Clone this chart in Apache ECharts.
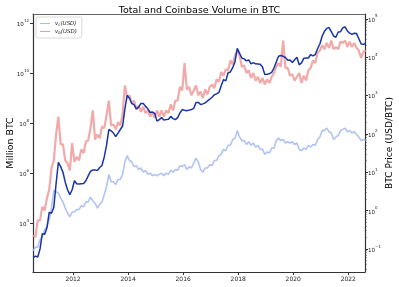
<!DOCTYPE html>
<html>
<head>
<meta charset="utf-8">
<script src="https://cdn.jsdelivr.net/npm/echarts@6/dist/echarts.min.js"></script>
<style>html,body{margin:0;padding:0;background:#fff}#c{width:399px;height:287px}</style>
</head>
<body>
<div id="c"></div>
<script>
// Monthly samples starting mid-July 2010
const startYear = 2010.55;
const xTicks = [2012, 2014, 2016, 2018, 2020, 2022];
const leftTicks = [1e4, 1e6, 1e8, 1e10, 1e12];
const rightTicks = [0.1, 1, 10, 100, 1000, 1e4, 1e5];
const legendNames = ['v_c(USD)', 'v_b(USD)'];

const vc = [
7.9e2,1.1e3,1.1e3,2.2e3,2.8e3,5.6e3,
7.1e3,1.4e4,4e4,2e5,1.8e5,1.6e5,1e5,7.1e4,4e4,2.5e4,1.8e4,2.8e4,
2.8e4,3.5e4,3.5e4,5e4,4.5e4,7.1e4,7.1e4,1.1e5,7.9e4,6.3e4,4e4,5.6e4,
7.1e4,1.4e5,2.8e5,8.9e5,4.5e5,4.5e5,3.5e5,5.6e5,5.6e5,8.9e5,2.8e6,5e6,
3.2e6,2.8e6,1.8e6,2e6,1.4e6,1.6e6,1.1e6,1.3e6,8.9e5,1e6,7.9e5,8.9e5,
7.9e5,8.9e5,1e6,7.9e5,1e6,8.9e5,1.3e6,1.1e6,1.4e6,1.3e6,2e6,1.8e6,
2.2e6,1.4e6,1.8e6,1.6e6,2.5e6,4e6,2.8e6,1.4e6,1.1e6,1.6e6,1.6e6,2.2e6,
2e6,3.2e6,3.2e6,5e6,5.6e6,8.9e6,7.9e6,1.3e7,1.3e7,2.2e7,2.5e7,5e7,
2.8e7,2e7,2e7,1.4e7,1.8e7,1.3e7,1.6e7,1.1e7,1.3e7,8.9e6,8.9e6,5.6e6,
7.1e6,6.3e6,1e7,1e7,2e7,2.5e7,2e7,2.2e7,1.6e7,1.8e7,1.6e7,1.8e7,
1.4e7,1.6e7,8.9e6,7.9e6,1e7,8.9e6,1.3e7,1.1e7,1.4e7,1.3e7,2.2e7,2.8e7,
5e7,5e7,6.3e7,4.5e7,4e7,2.2e7,2.8e7,3.2e7,5e7,5.6e7,6.3e7,4.5e7,
5e7,4e7,4.5e7,3.5e7,2.8e7,2e7,2.2e7,2e7];

const vb = [
3.2e3,2.8e3,1.3e4,1.3e4,4.5e4,3.2e4,
1e5,2.2e5,1.6e6,3.2e6,3.5e7,1.8e8,1.4e7,1.4e7,3.2e6,2.5e6,1.3e6,1.6e7,
2.8e6,4.5e6,3.2e6,8.9e6,6.3e6,1.8e7,2e7,6.3e7,3.2e8,2.2e7,3.5e7,2.5e7,
7.1e7,6.3e7,2e8,7.9e8,7.9e7,8.9e7,5.6e7,1.1e8,7.9e7,2.2e8,3.2e9,1e9,
1.3e9,6.3e8,7.9e8,3.5e8,5e8,2.8e8,4.5e8,2.5e8,3.2e8,1.8e8,2.8e8,1.6e8,
3.2e8,1.8e8,3.2e8,1.8e8,3.2e8,2.5e8,5.6e8,3.2e8,7.9e8,7.9e8,2.8e9,2e9,
2.5e10,2.2e9,2.8e9,1.3e9,2e9,3.2e9,1.3e9,1.8e9,1e9,2.2e9,1.4e9,2.8e9,
3.5e9,2.5e9,5.6e9,4.5e9,1.1e10,7.9e9,1.4e10,1.3e10,3.2e10,2.2e10,5e10,7.9e10,
5e10,1.8e10,2e10,1e10,1.3e10,6.3e9,1e10,5e9,7.1e9,4e9,6.3e9,3.5e9,
5.6e9,4e9,7.1e9,1e10,1.8e10,2.5e10,1.8e10,2e11,1.6e10,1.6e10,7.9e9,8.9e9,
5e9,7.1e9,1e10,4e9,7.9e9,5e9,1.3e10,1.6e10,3.2e10,2.5e10,6.3e10,7.9e10,
1.3e11,8.9e10,1.6e11,1e11,2e11,8.9e10,1.1e11,8.9e10,1.8e11,1.6e11,2e11,1.1e11,
1.8e11,1.1e11,1.6e11,1e11,7.9e10,4e10,7.1e10,7.9e10];

const price = [
0.06,0.065,0.062,0.1,0.25,0.24,
0.35,0.9,0.85,1.2,5,18,14,10,5.5,3.5,2.6,3.5,
6,5,4.9,5,5.1,6,8,10.5,11.5,11.5,11,13.3,
15,25,50,130,120,105,85,105,130,160,450,1000,
850,620,580,450,500,620,620,520,450,360,370,340,
215,235,265,230,235,240,285,250,235,265,350,430,
410,400,415,430,460,660,660,580,605,640,720,800,
900,1050,1100,1200,1800,2600,2400,3900,4100,5300,7600,17000,
12500,9500,9000,8000,8500,6700,7200,6700,6600,6500,5500,3500,
3600,3700,4000,5200,7500,10500,11000,10500,9800,8300,8400,7200,
8500,9900,6300,7100,9300,9500,9500,11700,10700,11700,16500,22000,
35000,47000,56000,59000,46000,35500,33000,45000,46000,58000,61000,48000,
42000,39000,42000,41000,30000,22000,21500,23000];

const toPairs = arr => arr.map((v, i) => [startYear + i / 12, v]);

const rightMinor = [];
for (let d = -2; d <= 4; d++) for (let k = 2; k <= 9; k++) {
  const v = k * Math.pow(10, d);
  if (v > 0.0251 && v < 1.33e5) rightMinor.push(v);
}

const FONT = 'DejaVu Sans';
const AX = '#333';
function powLabel(v) {
  const e = Math.round(Math.log10(v));
  return '{b|10}{s|' + (e < 0 ? '\u2212' + (-e) : e) + '}';
}
const powRich = {
  b: { fontSize: 5.6, fontFamily: FONT, color: '#222', verticalAlign: 'bottom', lineHeight: 9 },
  s: { fontSize: 4, fontFamily: FONT, color: '#222', verticalAlign: 'top', lineHeight: 9 }
};

const chart = echarts.init(document.getElementById('c'), null, { renderer: 'canvas' });
chart.setOption({
  animation: false,
  backgroundColor: '#fff',
  title: {
    text: 'Total and Coinbase Volume in BTC',
    left: 'center', top: 1,
    textStyle: { fontFamily: FONT, fontSize: 9.5, fontWeight: 'normal', color: '#000' }
  },
  grid: { left: 33, right: 34, top: 14, bottom: 15, containLabel: false, outerBoundsMode: 'none' },
  legend: {
    data: legendNames,
    orient: 'vertical',
    left: 36, top: 17,
    padding: [3, 5, 3, 4],
    itemGap: 1,
    itemWidth: 10, itemHeight: 1,
    icon: 'rect',
    borderColor: '#d0d0d0', borderWidth: 0.8, borderRadius: 2,
    backgroundColor: 'rgba(255,255,255,0.85)',
    formatter: n => n === 'v_c(USD)' ? '{i|v}{s|c}{i|(USD)}' : '{i|v}{s|b}{i|(USD)}',
    textStyle: {
      fontFamily: FONT, fontSize: 5.5, color: '#222', lineHeight: 7,
      rich: {
        i: { fontStyle: 'italic', fontSize: 5.5, fontFamily: FONT, color: '#222', lineHeight: 7 },
        s: { fontStyle: 'italic', fontSize: 4, fontFamily: FONT, color: '#222', lineHeight: 7, verticalAlign: 'bottom' }
      }
    }
  },
  xAxis: [{
    type: 'value', min: 2010.545, max: 2022.607,
    axisLine: { show: true, lineStyle: { color: AX, width: 1.2 } },
    axisTick: { show: true, length: 3, customValues: xTicks, lineStyle: { color: AX } },
    axisLabel: { customValues: xTicks, formatter: v => String(v), fontFamily: FONT, fontSize: 6, color: '#222', margin: 4 },
    splitLine: { show: false }
  }, {
    type: 'value', position: 'top', min: 2010.545, max: 2022.607,
    axisLine: { show: true, onZero: false, lineStyle: { color: '#666', width: 1.2 } },
    axisTick: { show: false }, axisLabel: { show: false }, splitLine: { show: false }
  }],
  yAxis: [{
    type: 'log', logBase: 10, min: 112, max: 2.29e12, position: 'left',
    name: 'Million BTC', nameLocation: 'middle', nameGap: 18, nameRotate: 90, nameMoveOverlap: false,
    nameTextStyle: { fontFamily: FONT, fontSize: 9.4, color: '#000' },
    axisLine: { show: true, lineStyle: { color: AX, width: 1.2 } },
    axisTick: { show: true, length: 3, customValues: leftTicks, lineStyle: { color: AX } },
    axisLabel: { customValues: leftTicks, formatter: powLabel, rich: powRich, margin: 4 },
    splitLine: { show: false }
  }, {
    type: 'log', logBase: 10, min: 0.0251, max: 1.33e5, position: 'right',
    name: 'BTC Price (USD/BTC)', nameLocation: 'middle', nameGap: 20, nameRotate: 90, nameMoveOverlap: false,
    nameTextStyle: { fontFamily: FONT, fontSize: 9, color: '#000' },
    axisLine: { show: true, lineStyle: { color: AX, width: 1.2 } },
    axisTick: { show: true, length: 3, customValues: rightTicks, lineStyle: { color: AX } },
    axisLabel: { customValues: rightTicks, formatter: powLabel, rich: powRich, margin: 3 },
    splitLine: { show: false }
  }, {
    type: 'log', logBase: 10, min: 0.0251, max: 1.33e5, position: 'right',
    axisLine: { show: false },
    axisTick: { show: true, length: 1.6, customValues: rightMinor, lineStyle: { color: AX, width: 0.7 } },
    axisLabel: { show: false },
    splitLine: { show: false }
  }],
  series: [{
    name: 'v_c(USD)', type: 'line', xAxisIndex: 0, yAxisIndex: 0,
    data: toPairs(vc), symbol: 'none',
    color: '#a9bcf2',
    lineStyle: { width: 1.6, color: '#a9bcf2', opacity: 0.9 }
  }, {
    name: 'v_b(USD)', type: 'line', xAxisIndex: 0, yAxisIndex: 0,
    data: toPairs(vb), symbol: 'none',
    color: '#ee9c9c',
    lineStyle: { width: 2.2, color: '#ee9a9a', opacity: 0.85 }
  }, {
    name: 'price', type: 'line', xAxisIndex: 0, yAxisIndex: 1,
    data: toPairs(price), symbol: 'none',
    color: '#1834a8',
    lineStyle: { width: 1.5, color: '#1834a8' }
  }]
});
</script>
</body>
</html>
